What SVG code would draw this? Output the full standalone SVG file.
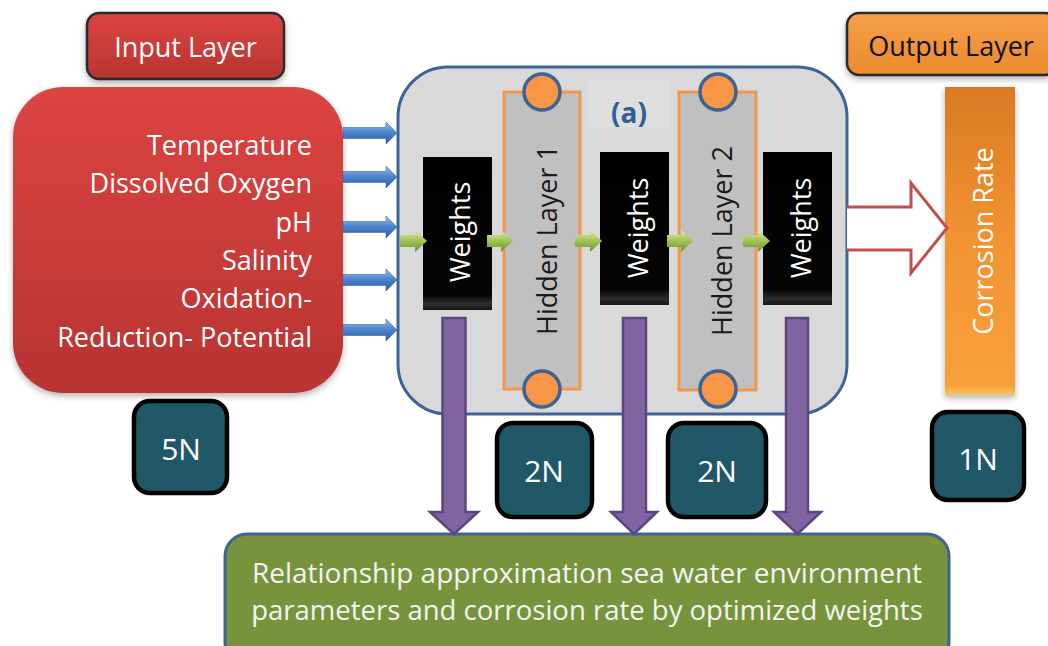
<svg xmlns="http://www.w3.org/2000/svg" width="1048" height="646" viewBox="0 0 1048 646">
<style>
text{font-family:"Open Sans","Liberation Sans",sans-serif;}
.w{fill:#ffffff;}
.lbl{font-size:27px;}
.num{font-size:30px;fill:#ffffff;text-anchor:middle;}
.teal{fill:#215867;stroke:#000000;stroke-width:4.5;}
.wt{fill:url(#gBlack);}
.hl{fill:#c0c0c0;stroke:#f79646;stroke-width:3;}
.dot{fill:#f79646;stroke:#3c6496;stroke-width:3.5;}
.blue{fill:url(#gBlue);stroke:#3a6aa8;stroke-width:0.6;}
.green{fill:url(#gGreen);}
.purple{fill:#8064a2;stroke:#5c4680;stroke-width:2.5;}
.rot{font-size:27px;text-anchor:middle;dominant-baseline:central;}
</style>
<defs>
<linearGradient id="gRed" x1="0" y1="0" x2="0" y2="1">
<stop offset="0" stop-color="#dc4441"/>
<stop offset="1" stop-color="#b73432"/>
</linearGradient>
<linearGradient id="gOrange" x1="0" y1="0" x2="0" y2="1">
<stop offset="0" stop-color="#f6a04a"/>
<stop offset="1" stop-color="#ea8a2c"/>
</linearGradient>
<linearGradient id="gBar" x1="0" y1="0" x2="0" y2="1">
<stop offset="0" stop-color="#db7a25"/>
<stop offset="0.5" stop-color="#f29332"/>
<stop offset="0.97" stop-color="#f9a03a"/>
<stop offset="1" stop-color="#f4c86a"/>
</linearGradient>
<linearGradient id="gBlack" x1="0" y1="0" x2="0" y2="1">
<stop offset="0" stop-color="#000000"/>
<stop offset="0.9" stop-color="#050505"/>
<stop offset="0.96" stop-color="#2e2e2e"/>
<stop offset="1" stop-color="#141414"/>
</linearGradient>
<linearGradient id="gBlue" x1="0" y1="0" x2="0" y2="1">
<stop offset="0" stop-color="#9cc0ec"/>
<stop offset="0.45" stop-color="#4f86cf"/>
<stop offset="1" stop-color="#2d5d9e"/>
</linearGradient>
<linearGradient id="gGreen" x1="0" y1="0" x2="0" y2="1">
<stop offset="0" stop-color="#dcebb0"/>
<stop offset="0.45" stop-color="#a6c75a"/>
<stop offset="1" stop-color="#6f9131"/>
</linearGradient>
<filter id="sh" x="-10%" y="-10%" width="120%" height="125%">
<feDropShadow dx="0" dy="3" stdDeviation="3" flood-color="#000" flood-opacity="0.3"/>
</filter>
</defs>

<g id="input-layer-title">
<rect x="87" y="13" width="197" height="66" rx="12" fill="url(#gRed)" stroke="#2b2b2b" stroke-width="2.5" filter="url(#sh)"/>
<text x="185.5" y="57" class="w lbl" text-anchor="middle">Input Layer</text>
</g>

<g id="input-box">
<rect x="13" y="87" width="330" height="306" rx="50" fill="url(#gRed)" filter="url(#sh)"/>
<g class="w lbl" text-anchor="end">
<text x="312" y="155">Temperature</text>
<text x="312" y="193">Dissolved Oxygen</text>
<text x="312" y="232">pH</text>
<text x="312" y="270">Salinity</text>
<text x="312" y="308">Oxidation-</text>
<text x="312" y="347">Reduction- Potential</text>
</g>
</g>

<g id="network">
<rect x="398" y="67" width="449" height="347" rx="50" fill="#d9d9d9" stroke="#3c6496" stroke-width="3"/>
<rect x="588" y="80" width="82" height="47" fill="#dedede"/>
<text x="629" y="123" font-size="28" font-weight="bold" fill="#2f5f98" text-anchor="middle">(a)</text>
</g>

<g id="hidden-layer-1">
<rect x="504" y="92" width="76" height="297" class="hl"/>
<text class="rot" transform="translate(546 240) rotate(-90)" fill="#1a1a1a">Hidden Layer 1</text>
<circle cx="542" cy="92" r="18" class="dot"/>
<circle cx="542" cy="389" r="18" class="dot"/>
</g>

<g id="hidden-layer-2">
<rect x="679" y="92" width="77" height="298" class="hl"/>
<text class="rot" transform="translate(721 241) rotate(-90)" fill="#1a1a1a">Hidden Layer 2</text>
<circle cx="718" cy="92" r="18" class="dot"/>
<circle cx="718" cy="389" r="18" class="dot"/>
</g>

<g id="weights-1">
<rect x="423" y="157" width="69" height="153" class="wt"/>
<text class="rot w" transform="translate(459 232) rotate(-90)">Weights</text>
</g>
<g id="weights-2">
<rect x="600" y="152" width="69" height="153" class="wt"/>
<text class="rot w" transform="translate(637 228) rotate(-90)">Weights</text>
</g>
<g id="weights-3">
<rect x="763" y="152" width="69" height="153" class="wt"/>
<text class="rot w" transform="translate(800 228) rotate(-90)">Weights</text>
</g>

<g id="output-layer-title">
<rect x="847" y="13" width="210" height="62" rx="12" fill="url(#gOrange)" stroke="#2b2b2b" stroke-width="2.5" filter="url(#sh)"/>
<text x="951" y="56" class="lbl" fill="#111111" text-anchor="middle">Output Layer</text>
</g>

<g id="corrosion-rate">
<rect x="945" y="87" width="70" height="308" fill="url(#gBar)" filter="url(#sh)"/>
<text class="rot w" transform="translate(982 241) rotate(-90)">Corrosion Rate</text>
</g>

<g id="n5"><rect x="134" y="401" width="93" height="92" rx="16" class="teal"/><text x="181" y="460" class="num">5N</text></g>
<g id="n2a"><rect x="497" y="423" width="95" height="94" rx="16" class="teal"/><text x="544" y="482" class="num">2N</text></g>
<g id="n2b"><rect x="668" y="423" width="98" height="94" rx="16" class="teal"/><text x="717" y="482" class="num">2N</text></g>
<g id="n1"><rect x="932" y="412" width="92" height="88" rx="16" class="teal"/><text x="978" y="470" class="num">1N</text></g>

<g id="result">
<rect x="225" y="534" width="724" height="130" rx="22" fill="#77933c" stroke="#3c6496" stroke-width="3"/>
<text x="587" y="583" font-size="28" fill="#f4f4f4" text-anchor="middle">Relationship approximation sea water environment</text>
<text x="587" y="620" font-size="27.5" fill="#f4f4f4" text-anchor="middle">parameters and corrosion rate by optimized weights</text>
</g>

<g id="connectors">
<path class="blue" d="M343 127.5H386V122L397 133L386 144V138.5H343Z"/>
<path class="blue" d="M343 171.5H386V166L397 177L386 188V182.5H343Z"/>
<path class="blue" d="M343 221.5H386V216L397 227L386 238V232.5H343Z"/>
<path class="blue" d="M343 274.5H386V269L397 280L386 291V285.5H343Z"/>
<path class="blue" d="M343 324.5H386V319L397 330L386 341V335.5H343Z"/>

<path class="green" d="M400 235H415V230L427 241L415 252V247H400Z"/>
<path class="green" d="M487 235H501V230L513 241L501 252V247H487Z"/>
<path class="green" d="M575 235H590V230L602 241L590 252V247H575Z"/>
<path class="green" d="M667 235H681V230L693 241L681 252V247H667Z"/>
<path class="green" d="M743 235H758V230L770 241L758 252V247H743Z"/>

<path d="M847 207H911V183L947 228L911 273V250H847" fill="#ffffff" stroke="#c0504d" stroke-width="3"/>

<path class="purple" d="M442.5 318H465.5V512H478L454 534L430 512H442.5Z"/>
<path class="purple" d="M623 318H646V512H657L634 534L611 512H623Z"/>
<path class="purple" d="M786 318H808V512H821L797.5 534L774 512H786Z"/>
</g>
</svg>
